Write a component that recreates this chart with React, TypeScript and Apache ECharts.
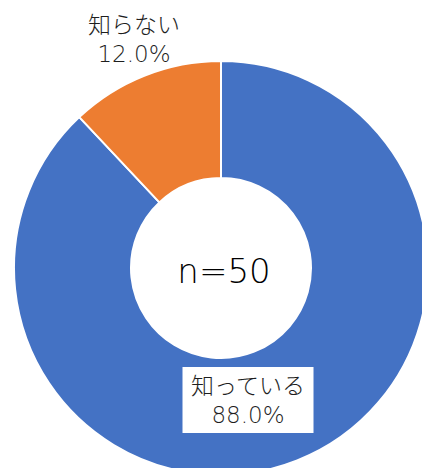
import React, { useEffect, useRef } from "react";
import * as echarts from "echarts";

const categories = ["知っている", "知らない"];
const counts = [44, 6];
const colors = ["#4472C4", "#ED7D31"];

export default function App() {
  const ref = useRef<HTMLDivElement>(null);
  useEffect(() => {
    document.body.style.margin = "0";
    const chart = echarts.init(ref.current!, undefined, { renderer: "svg" });
    const total = counts.reduce((a, b) => a + b, 0);
    const font = "'DejaVu Sans', 'Noto Sans CJK JP', sans-serif";
    chart.setOption({
      animation: false,
      backgroundColor: "#ffffff",
      graphic: [
        {
          type: "text",
          x: 224,
          y: 271,
          style: {
            text: "n=" + total,
            fontSize: 34,
            fontFamily: font,
            fontWeight: 200,
            fill: "#000",
            align: "center",
            verticalAlign: "middle",
          },
        },
      ],
      series: [
        {
          type: "pie",
          center: [221, 268],
          radius: [90, 207],
          startAngle: 90,
          clockwise: true,
          itemStyle: { borderColor: "#ffffff", borderWidth: 2 },
          labelLine: { show: false },
          label: {
            show: true,
            position: "inside",
            fontFamily: font,
            fontWeight: 200,
            fontSize: 23,
            lineHeight: 29,
            color: "#1e1e1e",
            align: "center",
            formatter: (p: any) => p.name + "\n" + p.percent.toFixed(1) + "%",
          },
          labelLayout: (p: any) => {
            if (p.dataIndex === 0) return { x: 248, y: 400 };
            return { x: 134, y: 39 };
          },
          data: categories.map((c, i) => ({
            name: c,
            value: counts[i],
            itemStyle: { color: colors[i] },
            label:
              i === 0
                ? { backgroundColor: "#ffffff", padding: [4, 8, 4, 8] }
                : {},
          })),
        },
      ],
    });
    return () => chart.dispose();
  }, []);
  return (
    <div
      ref={ref}
      style={{ position: "absolute", left: 0, top: 0, width: 422, height: 468 }}
    />
  );
}
